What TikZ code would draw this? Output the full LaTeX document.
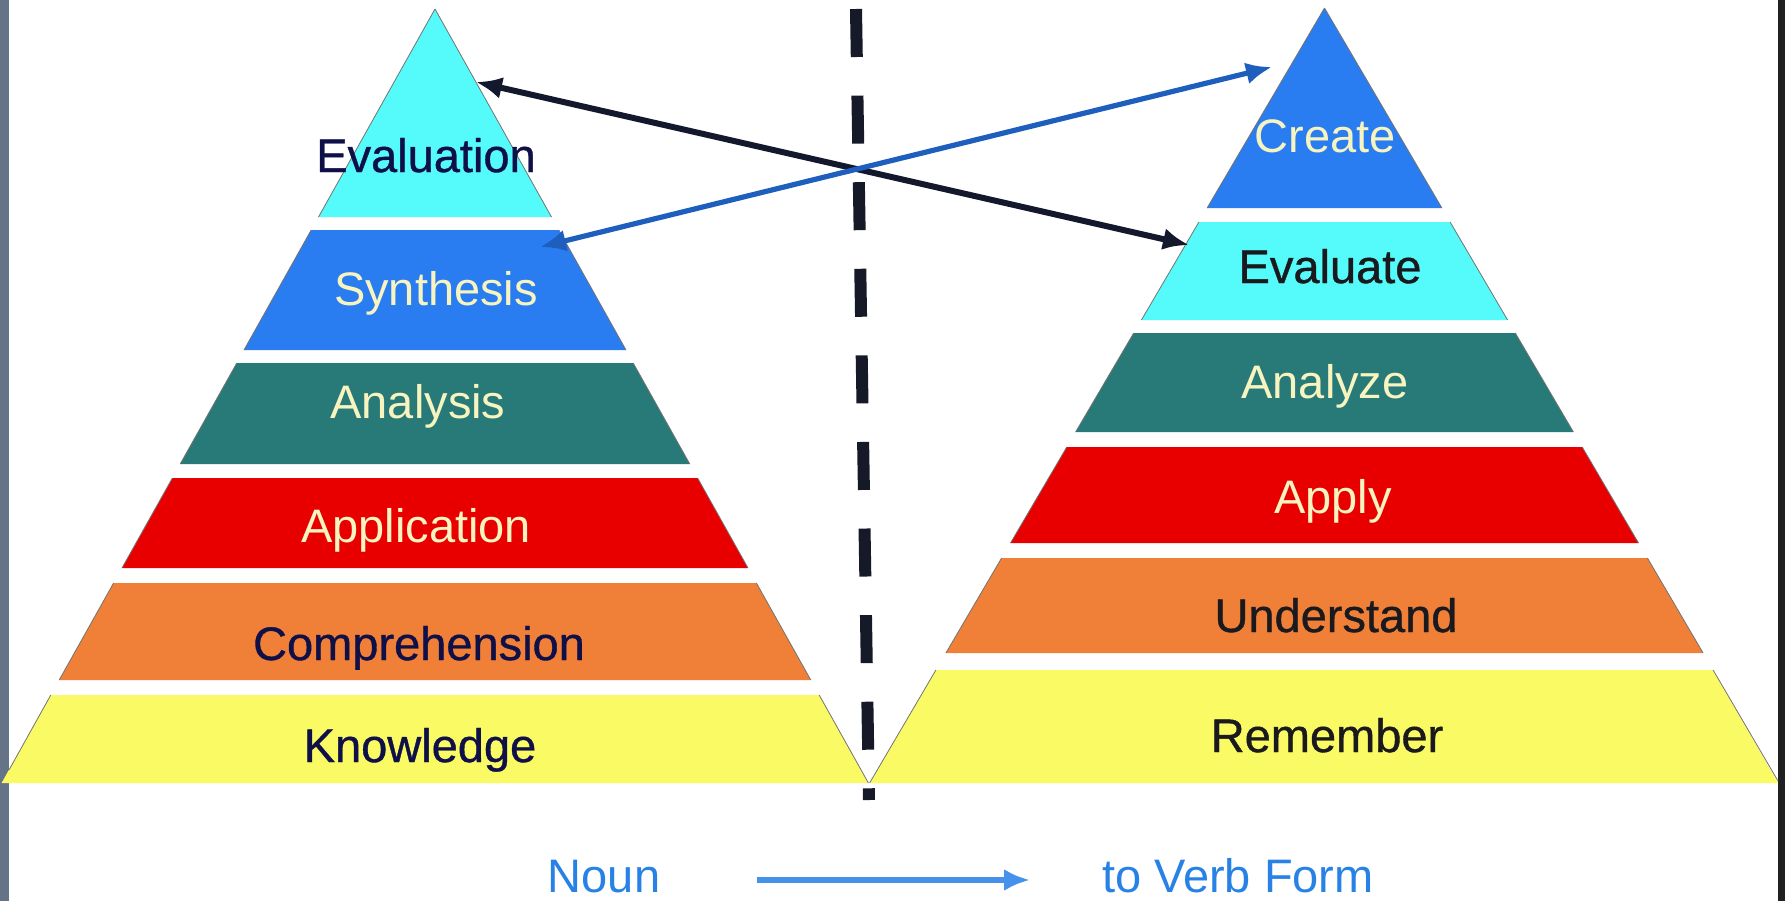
\documentclass[tikz,border=0pt]{standalone}
\usepackage{fontspec}
\setmainfont{Liberation Sans}
\newfontfamily\heavyfont{Liberation Sans}[FakeBold=0.8]
\usetikzlibrary{arrows.meta}
\definecolor{evalcyan}{RGB}{85,250,250}
\definecolor{synblue}{RGB}{42,125,240}
\definecolor{anateal}{RGB}{40,122,120}
\definecolor{appred}{RGB}{232,0,0}
\definecolor{comporange}{RGB}{240,128,56}
\definecolor{knowyellow}{RGB}{250,250,100}
\definecolor{navytext}{RGB}{16,16,72}
\definecolor{creamtext}{RGB}{248,244,192}
\definecolor{blacktext}{RGB}{26,26,30}
\definecolor{arrowdark}{RGB}{20,24,44}
\definecolor{arrowblue}{RGB}{30,95,190}
\definecolor{legendblue}{RGB}{70,145,235}
\definecolor{legendtext}{RGB}{40,130,230}
\definecolor{stripgray}{RGB}{100,116,134}
\definecolor{stripdark}{RGB}{32,32,32}
\definecolor{divider}{RGB}{22,26,40}

\begin{document}
\begin{tikzpicture}[x=0.5pt,y=-0.5pt,
	tierlabel/.style={font=\fontsize{23.5}{28}\selectfont, anchor=base, inner sep=0pt},
	darklabel/.style={tierlabel, font=\heavyfont\fontsize{23.5}{28}\selectfont},
	tieredge/.style={draw=black!55, line width=0.4pt},
	cross/.style={line width=3pt, {Latex[length=13pt,width=11pt]}-{Latex[length=13pt,width=11pt]}},
	]
	\fill[white] (0,0) rectangle (1785,901);
	\useasboundingbox (0,0) rectangle (1785,901);
	\fill[stripgray] (0,0) rectangle (9,901);
	\fill[stripdark] (1778,0) rectangle (1785,901);

	% noun pyramid
	\fill[evalcyan] (435,9) -- (551.5,217) -- (318.5,217) -- cycle;
	\fill[synblue] (311.2,230) -- (558.8,230) -- (626,350) -- (244,350) -- cycle;
	\fill[anateal] (236.8,363) -- (633.2,363) -- (689.8,464) -- (180.2,464) -- cycle;
	\fill[appred] (172.4,478) -- (697.6,478) -- (748,568) -- (122,568) -- cycle;
	\fill[comporange] (113.6,583) -- (756.4,583) -- (810.8,680) -- (59.2,680) -- cycle;
	\fill[knowyellow] (50.8,695) -- (819.2,695) -- (868.4,783) -- (1.6,783) -- cycle;
	\draw[tieredge] (435,9) -- (318.5,217) (435,9) -- (551.5,217)
		(311.2,230) -- (244,350) (558.8,230) -- (626,350)
		(236.8,363) -- (180.2,464) (633.2,363) -- (689.8,464)
		(172.4,478) -- (122,568) (697.6,478) -- (748,568)
		(113.6,583) -- (59.2,680) (756.4,583) -- (810.8,680)
		(50.8,695) -- (9,770) (819.2,695) -- (868.4,783);

	% verb pyramid
	\fill[synblue] (1324.5,8) -- (1441.9,208) -- (1207.1,208) -- cycle;
	\fill[evalcyan] (1198.9,222) -- (1450.1,222) -- (1507.6,320) -- (1141.4,320) -- cycle;
	\fill[anateal] (1133.7,333) -- (1515.3,333) -- (1573.4,432) -- (1075.6,432) -- cycle;
	\fill[appred] (1066.8,447) -- (1582.2,447) -- (1638.5,543) -- (1010.5,543) -- cycle;
	\fill[comporange] (1001.6,558) -- (1647.4,558) -- (1703.1,653) -- (945.9,653) -- cycle;
	\fill[knowyellow] (935.9,670) -- (1713.1,670) -- (1778,783) -- (869.6,783) -- cycle;
	\draw[tieredge] (1324.5,8) -- (1207.1,208) (1324.5,8) -- (1441.9,208)
		(1198.9,222) -- (1141.4,320) (1450.1,222) -- (1507.6,320)
		(1133.7,333) -- (1075.6,432) (1515.3,333) -- (1573.4,432)
		(1066.8,447) -- (1010.5,543) (1582.2,447) -- (1638.5,543)
		(1001.6,558) -- (945.9,653) (1647.4,558) -- (1703.1,653)
		(935.9,670) -- (869.6,783) (1713.1,670) -- (1778,781);

	\node[darklabel, navytext] (evaluation) at (426,172) {Evaluation};
	\node[tierlabel, creamtext] (synthesis) at (436,305) {Synthesis};
	\node[tierlabel, creamtext] (analysis) at (418,418) {Analysis};
	\node[tierlabel, creamtext] (application) at (416,542) {Application};
	\node[darklabel, navytext] (comprehension) at (419,660) {Comprehension};
	\node[darklabel, navytext] (knowledge) at (420,762) {Knowledge};

	\node[tierlabel, creamtext] (create) at (1325,152) {Create};
	\node[darklabel, blacktext] (evaluate) at (1330,283) {Evaluate};
	\node[tierlabel, creamtext] (analyze) at (1325,398) {Analyze};
	\node[tierlabel, creamtext] (apply) at (1333,513) {Apply};
	\node[darklabel, blacktext] (understand) at (1336,632) {Understand};
	\node[darklabel, blacktext] (remember) at (1327,752) {Remember};

	% divider
	\coordinate (divtop) at (856,9);
	\coordinate (divbot) at (869,800);
	\draw[divider, line width=6pt, dash pattern=on 24pt off 19.3pt] (divtop) -- (divbot);

	% crossing arrows
	\coordinate (evaltip) at (476,82);
	\coordinate (evaluatetip) at (1189,245);
	\coordinate (syntip) at (540,247);
	\coordinate (createtip) at (1272,67);
	\draw[cross, arrowdark] (evaltip) -- (evaluatetip);
	\draw[cross, arrowblue, line width=2.6pt] (syntip) -- (createtip);

	% legend
	\node[tierlabel, legendtext] (noun) at (604,892) {Noun};
	\node[tierlabel, legendtext] (verbform) at (1238,892) {to Verb Form};
	\coordinate (legstart) at (757,880);
	\coordinate (legend) at (1030,880);
	\draw[legendblue, line width=2.8pt, -{Latex[length=13pt,width=11pt]}] (legstart) -- (legend);
\end{tikzpicture}
\end{document}
